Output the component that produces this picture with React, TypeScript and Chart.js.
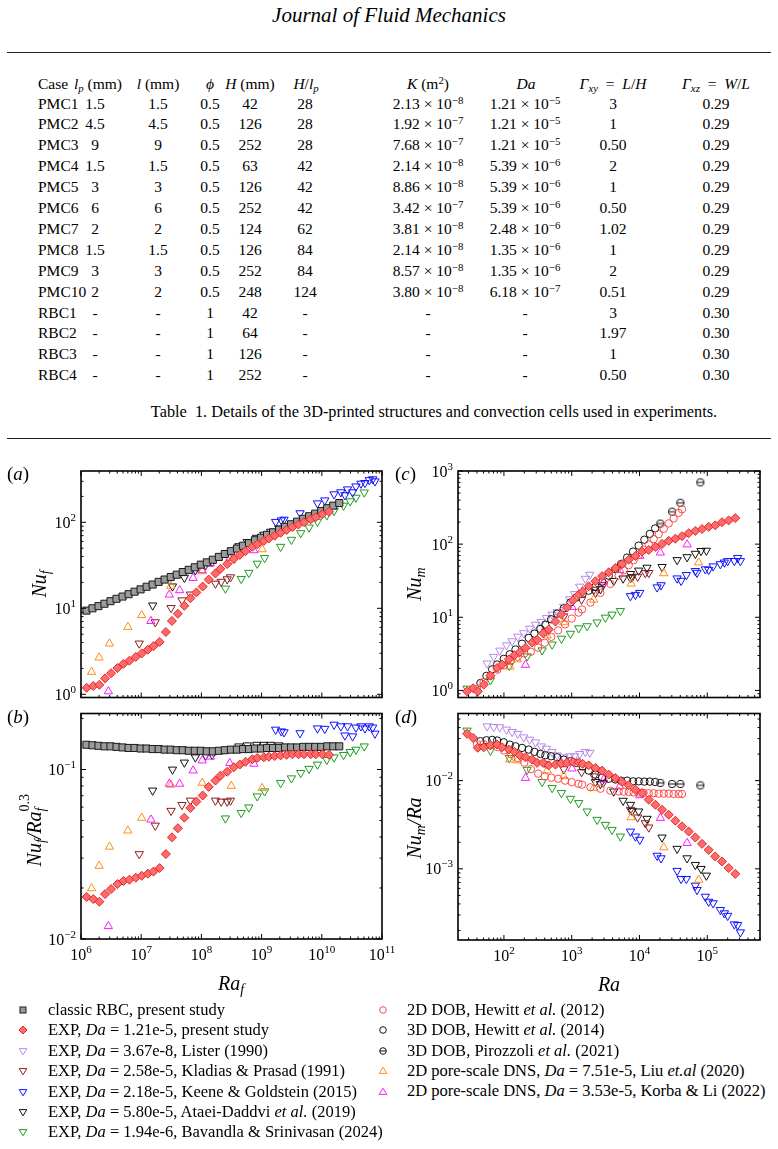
import React, { useEffect, useRef } from 'react';
import { Chart, registerables } from 'chart.js';
Chart.register(...registerables);

const FONT = "'Liberation Serif', 'Times New Roman', serif";

// ---------------- Table data ----------------
const caseNames = ['PMC1','PMC2','PMC3','PMC4','PMC5','PMC6','PMC7','PMC8','PMC9','PMC10','RBC1','RBC2','RBC3','RBC4'];
const lpVals = ['1.5','4.5','9','1.5','3','6','2','1.5','3','2','-','-','-','-'];
const lVals = ['1.5','4.5','9','1.5','3','6','2','1.5','3','2','-','-','-','-'];
const phiVals = ['0.5','0.5','0.5','0.5','0.5','0.5','0.5','0.5','0.5','0.5','1','1','1','1'];
const hVals = ['42','126','252','63','126','252','124','126','252','248','42','64','126','252'];
const hlpVals = ['28','28','28','42','42','42','62','84','84','124','-','-','-','-'];
const kMant = ['2.13','1.92','7.68','2.14','8.86','3.42','3.81','2.14','8.57','3.80','','','',''];
const kExp = ['\u22128','\u22127','\u22127','\u22128','\u22128','\u22127','\u22128','\u22128','\u22128','\u22128','','','',''];
const daMant = ['1.21','1.21','1.21','5.39','5.39','5.39','2.48','1.35','1.35','6.18','','','',''];
const daExp = ['\u22125','\u22125','\u22125','\u22126','\u22126','\u22126','\u22126','\u22126','\u22126','\u22127','','','',''];
const gxyVals = ['3','1','0.50','2','1','0.50','1.02','1','2','0.51','3','1.97','1','0.50'];
const gxzVals = ['0.29','0.29','0.29','0.29','0.29','0.29','0.29','0.29','0.29','0.29','0.30','0.30','0.30','0.30'];

// ---------------- Panels (a),(b): Ra_f ----------------
const rbcRaF = [1.23e6,1.55e6,1.95e6,2.45e6,3.09e6,3.89e6,4.90e6,6.17e6,7.76e6,9.77e6,1.23e7,1.55e7,1.95e7,2.45e7,3.09e7,3.89e7,4.90e7,6.17e7,7.76e7,9.77e7,1.23e8,1.55e8,1.95e8,2.45e8,3.09e8,3.89e8,4.90e8,6.17e8,7.76e8,9.77e8,1.23e9,1.55e9,1.95e9,2.45e9,3.09e9,3.89e9,4.90e9,6.17e9,7.76e9,9.77e9,1.23e10,1.55e10,1.95e10];
const rbcNuF = [9.40,10.0,10.6,11.3,12.1,12.9,13.7,14.6,15.6,16.6,17.8,18.9,20.3,21.6,23.1,24.6,26.4,28.0,30.0,32.2,34.2,36.7,39.6,42.8,46.2,49.5,53.4,57.2,61.8,66.2,71.5,76.6,82.1,88.6,94.9,101.7,109.8,117.6,126.0,135.1,145.8,156.2,167.4];
const rbcComp = [0.140,0.139,0.138,0.137,0.137,0.136,0.135,0.134,0.134,0.133,0.133,0.132,0.132,0.131,0.131,0.130,0.130,0.129,0.129,0.129,0.128,0.128,0.129,0.130,0.131,0.131,0.132,0.132,0.133,0.133,0.134,0.134,0.134,0.135,0.135,0.135,0.136,0.136,0.136,0.136,0.137,0.137,0.137];

const pmcRaF = [1.24e6,1.60e6,2.02e6,2.51e6,3.16e6,4.03e6,5.07e6,6.38e6,8.13e6,1.02e7,1.29e7,1.60e7,2.02e7,2.57e7,3.24e7,4.07e7,5.21e7,6.56e7,8.26e7,1.05e8,1.32e8,1.71e8,2.07e8,2.68e8,3.45e8,4.35e8,5.41e8,7.00e8,8.47e8,1.09e9,1.32e9,1.65e9,2.07e9,2.61e9,3.25e9,4.09e9,5.07e9,6.56e9,7.94e9,1.02e10,1.32e10];
const pmcNuF = [1.19,1.25,1.29,1.53,1.76,2.02,2.26,2.46,2.72,2.99,3.30,3.63,4.07,5.30,7.13,8.64,10.7,13.1,15.3,17.9,21.6,25.4,28.8,32.7,37.5,41.8,46.2,51.8,55.7,60.7,64.9,69.9,75.5,81.5,87.8,94.1,100.3,108.4,114.8,123.9,132.5];
const pmcComp = [0.0177,0.0172,0.0166,0.0184,0.0197,0.0211,0.0220,0.0224,0.0230,0.0236,0.0243,0.0250,0.0262,0.0317,0.0398,0.0450,0.0520,0.0593,0.0647,0.0702,0.0790,0.0860,0.0920,0.0970,0.103,0.107,0.111,0.115,0.117,0.118,0.119,0.120,0.121,0.122,0.123,0.123,0.123,0.123,0.123,0.123,0.122];

const kladRaF = [9.27e6,1.71e7,3.13e7,4.76e7,6.56e7,1.71e8,2.13e8,2.68e8,3.04e8];
const kladNuF = [3.9,6.9,10.1,12.4,14.5,19.4,20.4,21.8,23.0];
const kladComp = [0.0317,0.0467,0.0571,0.0618,0.0656,0.0656,0.0647,0.0647,0.0656];

const keeneRaF = [1.71e9,2.13e9,2.36e9,4.35e9,8.47e9,1.12e10,1.60e10,2.07e10,2.42e10,2.68e10,3.25e10,3.69e10,4.47e10,5.21e10,6.14e10,7.00e10,7.64e10];
const keeneNuF = [101.3,105.6,107.6,127.7,166.5,180.1,212.0,224.1,207.2,241.9,223.6,261.8,282.1,287.2,310.1,317.4,300.0];
const keeneComp = [0.172,0.168,0.166,0.164,0.175,0.174,0.184,0.180,0.159,0.180,0.157,0.177,0.180,0.175,0.180,0.177,0.163];

const ataeiRaF = [1.55e7,3.31e7,5.21e7,7.94e7,1.17e8,1.51e8,4.19e8,5.78e8,8.26e8,1.09e9,1.41e9,1.94e9];
const ataeiNuF = [10.8,18.0,22.7,27.7,31.8,34.6,52.9,59.1,66.2,72.0,77.8,85.0];
const ataeiComp = [0.0752,0.100,0.110,0.118,0.121,0.122,0.137,0.139,0.140,0.140,0.140,0.139];

const bavRaF = [2.51e8,4.59e8,6.14e8,8.47e8,1.12e9,2.07e9,3.13e9,4.47e9,6.14e9,8.47e9,1.21e10,1.60e10,2.30e10,2.96e10,3.69e10,5.07e10];
const bavNuF = [17.0,22.0,25.9,33.1,38.6,52.0,62.7,75.0,87.2,101.8,120.7,135.9,156.7,175.9,193.7,222.9];
const bavComp = [0.0515,0.0555,0.0598,0.0695,0.0744,0.0834,0.0888,0.0955,0.101,0.107,0.114,0.118,0.122,0.127,0.131,0.137];

const liuRaF = [1.5e6,2.0e6,2.97e6,6.0e6,1.02e7,3.1e7,1.03e8,3.13e8,1.02e9];
const liuNuF = [1.82,2.67,3.89,6.07,8.3,18.2,26.9,36.0,48.5];
const liuComp = [0.0199,0.0270,0.0350,0.0436,0.0518,0.0812,0.0834,0.080,0.0776];

const korbaRaF = [2.85e6,1.45e7,2.93e7,4.35e7,7.28e7,1.03e8,1.41e8,2.96e8,7.45e8];
const korbaNuF = [1.08,7.1,14.4,16.2,22.5,27.7,33.1,38.5,47.2];
const korbaComp = [0.0119,0.0506,0.0823,0.0823,0.0986,0.113,0.119,0.109,0.108];

// ---------------- Panels (c),(d): Ra ----------------
const pmcRa = [28.6,35.1,41.1,50.4,63.2,79.4,94.0,118,143,171,208,261,309,379,458,575,698,855,1050,1270,1450,1780,2240,2810,3520,4410,5540,6940,8710,10900,13700,17200,21500,27000,33800,42400,53200,66700,83700,105000,131000,165000,207000,259000];
const pmcNuM = [0.972,1.07,0.970,1.20,1.59,2.03,2.25,2.66,3.03,3.32,3.83,4.52,4.91,6.03,6.82,8.74,11.0,13.6,17.1,20.4,22.5,26.5,31.1,36.5,41.2,47.2,53.5,61.4,68.9,79.0,83.3,91.7,100.6,111.0,118.6,128.5,141.0,151.4,160.7,172.2,180.8,199.7,211.1,227.1];
const pmcNuMRa = [0.0340,0.0305,0.0236,0.0239,0.0252,0.0256,0.0239,0.0225,0.0212,0.0194,0.0184,0.0173,0.0159,0.0159,0.0149,0.0152,0.0157,0.0159,0.0163,0.0161,0.0155,0.0149,0.0139,0.0130,0.0117,0.0107,0.00966,0.00885,0.00791,0.00725,0.00608,0.00533,0.00468,0.00411,0.00351,0.00303,0.00265,0.00227,0.00192,0.00164,0.00138,0.00121,0.00102,0.000877];

const listerRa = [56.5,70.8,86.8,109,132,160,196,240,292,354,424,514,609,762,935,1100,1310,1590,1850];
const listerNuM = [2.34,2.88,3.51,4.14,4.71,5.44,6.08,7.01,7.94,8.67,9.79,10.9,11.8,14.0,17.7,20.8,26.3,33.7,38.3];
const listerNuMRa = [0.0414,0.0407,0.0404,0.0380,0.0357,0.0340,0.0310,0.0292,0.0272,0.0245,0.0231,0.0212,0.0194,0.0184,0.0189,0.0189,0.0201,0.0212,0.0207];

const kladRa = [414,764,1400,2130,2930,7350,9400,12200,13700];
const kladNuM = [6.42,10.3,17.5,23.9,27.8,34.4,36.0,40.3,40.4];
const kladNuMRa = [0.0155,0.0135,0.0125,0.0112,0.0095,0.00468,0.00383,0.0033,0.00295];

const keeneRa = [7350,8710,10100,18200,20800,35900,41100,49200,66700,70600,93700,105000,122000,156000,179000,200000,251000,281000,308000];
const keeneNuM = [19.5,20.3,21.6,25.7,27.5,34.1,31.6,37.9,43.1,40.7,45.4,44.6,49.8,53.4,56.2,58.8,59.0,64.9,58.8];
const keeneNuMRa = [0.00265,0.00233,0.00214,0.00141,0.00132,0.00095,0.00077,0.00077,0.000646,0.000577,0.000484,0.000425,0.000408,0.000342,0.000314,0.000294,0.000235,0.000231,0.000191];

const ataeiRa = [2240,2650,4170,5730,7350,7780,9730,12900,21500,35900,50400,66700,80900,97000];
const ataeiNuM = [21.6,24.3,31.5,34.0,39.2,35.5,43.6,47.7,48.8,60.7,66.5,74.0,80.9,81.5];
const ataeiNuMRa = [0.00966,0.00917,0.00755,0.00593,0.00533,0.00456,0.00448,0.00370,0.00227,0.00169,0.00132,0.00111,0.00100,0.00084];

const bavRa = [28.6,63.2,120,220,366,514,705,957,1270,1690,2370,3140,3940,5230];
const bavNuM = [1.06,1.38,2.17,2.93,3.54,4.25,5.11,5.97,7.09,7.57,8.53,9.92,10.9,12.2];
const bavNuMRa = [0.0370,0.0219,0.0181,0.0133,0.00966,0.00826,0.00725,0.00624,0.00558,0.00448,0.00360,0.00316,0.00277,0.00233];

const hew12Ra = [40,50,63,80,100,126,160,200,250,320,400,500,630,800,1000,1260,1420,1890,2650,3720,4930,5850,6940,8200,9730,11500,13700,16200,19200,22800,27000,31900,37800,42400];
const hew12NuM = [1.04,1.30,1.58,1.92,2.20,2.52,2.88,3.20,3.38,3.84,4.48,5.40,6.62,8.00,9.60,11.6,12.8,15.9,21.5,28.6,37.2,43.9,51.6,60.4,71.0,83.4,98.6,117,137,162,192,225,267,299];
const hew12NuMRa = [0.026,0.026,0.025,0.024,0.022,0.020,0.018,0.016,0.0135,0.012,0.0112,0.0108,0.0105,0.0100,0.0096,0.0092,0.0090,0.0084,0.0081,0.0077,0.00755,0.0075,0.00744,0.00736,0.0073,0.00725,0.0072,0.0072,0.00712,0.00712,0.00712,0.00706,0.00706,0.00706];

const hew14Ra = [45,55.2,67,79.4,99.3,122,148,185,232,282,345,409,497,609,762,957,1170,1450,1780,2240,2810,3520,4410,5350,6560,8040,9730,11800,14200,17000];
const hew14NuM = [1.26,1.58,1.94,2.26,2.70,3.12,3.63,4.35,5.22,5.98,6.93,7.93,9.39,11.2,13.2,15.9,18.6,21.0,23.1,26.2,30.6,37.0,45.4,53.5,65.6,79.0,95.5,115,138,164];
const hew14NuMRa = [0.028,0.0287,0.029,0.0285,0.0272,0.0256,0.0245,0.0235,0.0225,0.0212,0.0201,0.0194,0.0189,0.0184,0.0173,0.0166,0.0159,0.0145,0.0130,0.0117,0.0109,0.0105,0.0103,0.0100,0.0100,0.00982,0.00982,0.00975,0.00975,0.00966];

const piroRa = [20300,30300,40100,79100];
const piroNuM = [191,278,368,700];
const piroNuMRa = [0.00942,0.00917,0.00917,0.00885];

const liuRa = [122,157,434,762,2110,7520,22800,74600];
const liuNuM = [2.11,2.65,5.64,8.53,17.4,28.8,39.9,56.0];
const liuNuMRa = [0.0173,0.0169,0.0130,0.0112,0.00826,0.00383,0.00175,0.00075];

const korbaRa = [208,1010,2970,5110,10100,20300,50400];
const korbaNuM = [2.23,13.8,30.6,44.0,68.8,76.5,98.8];
const korbaNuMRa = [0.0107,0.0137,0.0103,0.00861,0.00681,0.00377,0.00196];

// ---------------- Styles ----------------
const C = {
  rbcFill: '#9b9b9b', rbcEdge: '#1a1a1a',
  pmcFill: '#ff6a6a', pmcEdge: '#e02a2a',
  lister: '#b88ae6', klad: '#8b1c1c', keene: '#1010ff', ataei: '#111111', bav: '#1f9a1f',
  hew12: '#ff4a4a', hew14: '#111111', piro: '#111111', liu: '#ff8c1a', korba: '#ff1aff',
};

let thetaImg: HTMLCanvasElement | null = null;
function thetaMarker() {
  if (thetaImg) return thetaImg;
  const c = document.createElement('canvas');
  c.width = 10; c.height = 10;
  const g = c.getContext('2d')!;
  g.strokeStyle = '#111'; g.lineWidth = 1;
  g.beginPath(); g.arc(5, 5, 3.7, 0, Math.PI * 2); g.stroke();
  g.beginPath(); g.moveTo(1.3, 5); g.lineTo(8.7, 5); g.stroke();
  thetaImg = c;
  return c;
}

type Mk = { style: any; r: number; fill: string; edge: string; rot?: number; bw?: number };
const MK: Record<string, Mk> = {
  rbc: { style: 'rect', r: 5, fill: C.rbcFill, edge: C.rbcEdge },
  pmc: { style: 'rectRot', r: 4.5, fill: C.pmcFill, edge: C.pmcEdge },
  lister: { style: 'triangle', r: 4.8, fill: 'rgba(0,0,0,0)', edge: C.lister, rot: 180 },
  klad: { style: 'triangle', r: 4.8, fill: 'rgba(0,0,0,0)', edge: C.klad, rot: 180 },
  keene: { style: 'triangle', r: 4.8, fill: 'rgba(0,0,0,0)', edge: C.keene, rot: 180 },
  ataei: { style: 'triangle', r: 4.8, fill: 'rgba(0,0,0,0)', edge: C.ataei, rot: 180 },
  bav: { style: 'triangle', r: 4.8, fill: 'rgba(0,0,0,0)', edge: C.bav, rot: 180 },
  hew12: { style: 'circle', r: 3.7, fill: 'rgba(0,0,0,0)', edge: C.hew12 },
  hew14: { style: 'circle', r: 3.7, fill: 'rgba(0,0,0,0)', edge: C.hew14 },
  piro: { style: 'theta', r: 4, fill: 'rgba(0,0,0,0)', edge: C.piro },
  liu: { style: 'triangle', r: 4.8, fill: 'rgba(0,0,0,0)', edge: C.liu },
  korba: { style: 'triangle', r: 4.8, fill: 'rgba(0,0,0,0)', edge: C.korba },
};

function ds(key: string, xs: number[], ys: number[]) {
  const m = MK[key];
  const ps = m.style === 'theta' ? thetaMarker() : m.style;
  return {
    type: 'scatter' as const,
    label: key,
    data: xs.map((x, i) => ({ x, y: ys[i] })),
    pointStyle: ps,
    pointRadius: m.r,
    pointBackgroundColor: m.fill,
    pointBorderColor: m.edge,
    pointBorderWidth: m.bw ?? 1,
    pointRotation: m.rot ?? 0,
    showLine: false,
  };
}

// ---------------- Axis plugin ----------------
const sciAxes = {
  id: 'sciAxes',
  afterDatasetsDraw(chart: any, _args: any, opts: any) {
    const ctx = chart.ctx as CanvasRenderingContext2D;
    const { left, right, top, bottom } = chart.chartArea;
    const sx = chart.scales.x, sy = chart.scales.y;
    const each = (sc: any, fn: (p: number, major: boolean, e: number) => void) => {
      const lo = Math.floor(Math.log10(sc.min)), hi = Math.ceil(Math.log10(sc.max));
      for (let e = lo; e <= hi; e++) {
        for (let m = 1; m < 10; m++) {
          const v = m * Math.pow(10, e);
          if (v < sc.min * 0.999 || v > sc.max * 1.001) continue;
          fn(sc.getPixelForValue(v), m === 1, e);
        }
      }
    };
    ctx.save();
    ctx.strokeStyle = '#000';
    ctx.lineWidth = 1;
    ctx.beginPath();
    each(sx, (p, major) => {
      const L = major ? 5 : 2.5;
      ctx.moveTo(p, bottom); ctx.lineTo(p, bottom - L);
      ctx.moveTo(p, top); ctx.lineTo(p, top + L);
    });
    each(sy, (p, major) => {
      const L = major ? 5 : 2.5;
      ctx.moveTo(left, p); ctx.lineTo(left + L, p);
      ctx.moveTo(right, p); ctx.lineTo(right - L, p);
    });
    ctx.stroke();
    ctx.lineWidth = 1.6;
    ctx.strokeRect(left, top, right - left, bottom - top);
    ctx.fillStyle = '#000';
    const pow = (e: number, x: number, yc: number, align: string) => {
      const base = '10';
      const ex = e < 0 ? '\u2212' + Math.abs(e) : String(e);
      ctx.font = `16px ${FONT}`;
      const wb = ctx.measureText(base).width;
      ctx.font = `11px ${FONT}`;
      const we = ctx.measureText(ex).width;
      const tot = wb + we;
      const x0 = align === 'right' ? x - tot : x - tot / 2;
      const bl = yc + 5.5;
      ctx.textAlign = 'left';
      ctx.textBaseline = 'alphabetic';
      ctx.font = `16px ${FONT}`;
      ctx.fillText(base, x0, bl);
      ctx.font = `11px ${FONT}`;
      ctx.fillText(ex, x0 + wb, bl - 7);
    };
    if (opts.yLabels) each(sy, (p, major, e) => { if (major) pow(e, left - 5, p, 'right'); });
    if (opts.xLabels) each(sx, (p, major, e) => { if (major) pow(e, p, bottom + opts.xOff, 'center'); });
    ctx.restore();
  },
};

type PanelCfg = {
  left: number; top: number; width: number; height: number;
  pad: { left: number; top: number; right: number; bottom: number };
  xr: [number, number]; yr: [number, number];
  xLabels: boolean; xOff: number;
  datasets: () => any[];
};

function Panel({ cfg }: { cfg: PanelCfg }) {
  const ref = useRef<HTMLCanvasElement>(null);
  useEffect(() => {
    const chart = new Chart(ref.current!, {
      type: 'scatter',
      data: { datasets: cfg.datasets() },
      options: {
        animation: false,
        responsive: false,
        devicePixelRatio: 1,
        events: [],
        layout: { padding: cfg.pad },
        scales: {
          x: { type: 'logarithmic', min: cfg.xr[0], max: cfg.xr[1], display: false },
          y: { type: 'logarithmic', min: cfg.yr[0], max: cfg.yr[1], display: false },
        },
        plugins: {
          legend: { display: false },
          tooltip: { enabled: false },
          sciAxes: { yLabels: true, xLabels: cfg.xLabels, xOff: cfg.xOff },
        } as any,
      },
      plugins: [sciAxes as any],
    } as any);
    return () => chart.destroy();
  }, []);
  return (
    <canvas
      ref={ref}
      width={cfg.width}
      height={cfg.height}
      style={{ position: 'absolute', left: cfg.left, top: cfg.top, width: cfg.width, height: cfg.height }}
    />
  );
}

const RAF: [number, number] = [1e6, 1e11];
const RA: [number, number] = [21, 6e5];

const panelA: PanelCfg = {
  left: 0, top: 455, width: 400, height: 250,
  pad: { left: 81, top: 16, right: 18, bottom: 7.5 },
  xr: RAF, yr: [0.918, 395], xLabels: false, xOff: 14,
  datasets: () => [
    ds('pmc', pmcRaF, pmcNuF), ds('rbc', rbcRaF, rbcNuF), ds('korba', korbaRaF, korbaNuF),
    ds('liu', liuRaF, liuNuF), ds('klad', kladRaF, kladNuF), ds('ataei', ataeiRaF, ataeiNuF),
    ds('keene', keeneRaF, keeneNuF), ds('bav', bavRaF, bavNuF),
  ],
};
const panelB: PanelCfg = {
  left: 0, top: 695, width: 400, height: 280,
  pad: { left: 81, top: 18.5, right: 18, bottom: 36 },
  xr: RAF, yr: [0.01, 0.214], xLabels: true, xOff: 15,
  datasets: () => [
    ds('pmc', pmcRaF, pmcComp), ds('rbc', rbcRaF, rbcComp), ds('korba', korbaRaF, korbaComp),
    ds('liu', liuRaF, liuComp), ds('klad', kladRaF, kladComp), ds('ataei', ataeiRaF, ataeiComp),
    ds('keene', keeneRaF, keeneComp), ds('bav', bavRaF, bavComp),
  ],
};
const panelC: PanelCfg = {
  left: 390, top: 455, width: 388, height: 250,
  pad: { left: 68, top: 16, right: 18, bottom: 7.5 },
  xr: RA, yr: [0.8, 1000], xLabels: false, xOff: 14,
  datasets: () => [
    ds('pmc', pmcRa, pmcNuM), ds('hew12', hew12Ra, hew12NuM), ds('hew14', hew14Ra, hew14NuM),
    ds('piro', piroRa, piroNuM), ds('lister', listerRa, listerNuM), ds('korba', korbaRa, korbaNuM),
    ds('liu', liuRa, liuNuM), ds('klad', kladRa, kladNuM), ds('ataei', ataeiRa, ataeiNuM),
    ds('keene', keeneRa, keeneNuM), ds('bav', bavRa, bavNuM),
  ],
};
const panelD: PanelCfg = {
  left: 390, top: 695, width: 388, height: 280,
  pad: { left: 68, top: 18.5, right: 18, bottom: 35 },
  xr: RA, yr: [1.56e-4, 0.0577], xLabels: true, xOff: 15,
  datasets: () => [
    ds('pmc', pmcRa, pmcNuMRa), ds('hew12', hew12Ra, hew12NuMRa), ds('hew14', hew14Ra, hew14NuMRa),
    ds('piro', piroRa, piroNuMRa), ds('lister', listerRa, listerNuMRa), ds('korba', korbaRa, korbaNuMRa),
    ds('liu', liuRa, liuNuMRa), ds('klad', kladRa, kladNuMRa), ds('ataei', ataeiRa, ataeiNuMRa),
    ds('keene', keeneRa, keeneNuMRa), ds('bav', bavRa, bavNuMRa),
  ],
};

// ---------------- HTML helpers ----------------
const subS: React.CSSProperties = { fontSize: '0.7em', verticalAlign: '-0.25em', lineHeight: 0 };
const supS: React.CSSProperties = { fontSize: '0.7em', verticalAlign: '0.45em', lineHeight: 0 };

function T({ x, y, size = 16, children, align = 'center', style }: any) {
  const tx = align === 'center' ? '-50%' : align === 'right' ? '-100%' : '0';
  return (
    <div style={{ position: 'absolute', left: x, top: y, transform: `translate(${tx},-50%)`, whiteSpace: 'nowrap', fontSize: size, lineHeight: 1, ...style }}>
      {children}
    </div>
  );
}

function VT({ x, y, size = 20, children }: any) {
  return (
    <div style={{ position: 'absolute', left: x, top: y, transform: 'translate(-50%,-50%) rotate(-90deg)', whiteSpace: 'nowrap', fontSize: size, lineHeight: 1, fontStyle: 'italic' }}>
      {children}
    </div>
  );
}

function LegendMarker({ k }: { k: string }) {
  const m = MK[k];
  const s = 12, c = 6;
  let shape: any = null;
  if (m.style === 'rect') shape = <rect x={c - 3} y={c - 3} width={6} height={6} fill={m.fill} stroke={m.edge} strokeWidth={1} />;
  else if (m.style === 'rectRot') shape = <polygon points={`${c - 4},${c} ${c},${c - 4} ${c + 4},${c} ${c},${c + 4}`} fill={m.fill} stroke={m.edge} strokeWidth={1} />;
  else if (m.style === 'triangle') {
    shape = m.rot === 180
      ? <polygon points={`${c - 3.8},${c - 2.4} ${c + 3.8},${c - 2.4} ${c},${c + 3.8}`} fill="none" stroke={m.edge} strokeWidth={1} />
      : <polygon points={`${c - 3.8},${c + 2.4} ${c + 3.8},${c + 2.4} ${c},${c - 3.8}`} fill="none" stroke={m.edge} strokeWidth={1} />;
  } else if (m.style === 'circle') shape = <circle cx={c} cy={c} r={3.3} fill="none" stroke={m.edge} strokeWidth={1} />;
  else shape = (<g><circle cx={c} cy={c} r={3.3} fill="none" stroke={m.edge} strokeWidth={1} /><line x1={c - 3.3} y1={c} x2={c + 3.3} y2={c} stroke={m.edge} strokeWidth={1} /></g>);
  return <svg width={s} height={s} style={{ display: 'block' }}>{shape}</svg>;
}

const legendLeft: [string, React.ReactNode][] = [
  ['rbc', <>classic RBC, present study</>],
  ['pmc', <>EXP, <i>Da</i> = 1.21e-5, present study</>],
  ['lister', <>EXP, <i>Da</i> = 3.67e-8, Lister (1990)</>],
  ['klad', <>EXP, <i>Da</i> = 2.58e-5, Kladias &amp; Prasad (1991)</>],
  ['keene', <>EXP, <i>Da</i> = 2.18e-5, Keene &amp; Goldstein (2015)</>],
  ['ataei', <>EXP, <i>Da</i> = 5.80e-5, Ataei-Daddvi <i>et al.</i> (2019)</>],
  ['bav', <>EXP, <i>Da</i> = 1.94e-6, Bavandla &amp; Srinivasan (2024)</>],
];
const legendRight: [string, React.ReactNode][] = [
  ['hew12', <>2D DOB, Hewitt <i>et al.</i> (2012)</>],
  ['hew14', <>3D DOB, Hewitt <i>et al.</i> (2014)</>],
  ['piro', <>3D DOB, Pirozzoli <i>et al.</i> (2021)</>],
  ['liu', <>2D pore-scale DNS, <i>Da</i> = 7.51e-5, Liu <i>et.al</i> (2020)</>],
  ['korba', <>2D pore-scale DNS, <i>Da</i> = 3.53e-5, Korba &amp; Li (2022)</>],
];

const colX = { lp: 95, l: 158, phi: 210, h: 250, hlp: 305, k: 428, da: 525, gxy: 613, gxz: 716 };
const EQ = '\u2002=\u2002';

export default function App() {
  const rowY = (i: number) => 103.5 + i * 20.9;
  const TS = 15.5;
  return (
    <div style={{ position: 'absolute', left: 0, top: 0, width: 778, height: 1149, background: '#fff', fontFamily: FONT, color: '#000', overflow: 'hidden' }}>
      <T x={389} y={15} size={21}><i>Journal of Fluid Mechanics</i></T>
      <div style={{ position: 'absolute', left: 7, top: 51.5, width: 764, height: 1.3, background: '#222' }} />

      {/* table header */}
      <T x={38} y={84} size={TS} align="left">Case</T>
      <T x={98} y={84} size={TS}><i>l</i><span style={subS}><i>p</i></span> (mm)</T>
      <T x={158} y={84} size={TS}><i>l</i> (mm)</T>
      <T x={210} y={84} size={TS}><i>ϕ</i></T>
      <T x={250} y={84} size={TS}><i>H</i> (mm)</T>
      <T x={306} y={84} size={TS}><i>H</i>/<i>l</i><span style={subS}><i>p</i></span></T>
      <T x={428} y={84} size={TS}><i>K</i>&nbsp;(m<span style={supS}>2</span>)</T>
      <T x={526} y={84} size={TS}><i>Da</i></T>
      <T x={613} y={84} size={TS}><i>Γ</i><span style={subS}><i>xy</i></span>{EQ}<i>L</i>/<i>H</i></T>
      <T x={716} y={84} size={TS}><i>Γ</i><span style={subS}><i>xz</i></span>{EQ}<i>W</i>/<i>L</i></T>

      {caseNames.map((nm, i) => (
        <React.Fragment key={nm}>
          <T x={38} y={rowY(i)} size={TS} align="left">{nm}</T>
          <T x={colX.lp} y={rowY(i)} size={TS}>{lpVals[i]}</T>
          <T x={colX.l} y={rowY(i)} size={TS}>{lVals[i]}</T>
          <T x={colX.phi} y={rowY(i)} size={TS}>{phiVals[i]}</T>
          <T x={colX.h} y={rowY(i)} size={TS}>{hVals[i]}</T>
          <T x={colX.hlp} y={rowY(i)} size={TS}>{hlpVals[i]}</T>
          <T x={colX.k} y={rowY(i)} size={TS}>{kMant[i] ? <>{kMant[i]} × 10<span style={supS}>{kExp[i]}</span></> : '-'}</T>
          <T x={colX.da} y={rowY(i)} size={TS}>{daMant[i] ? <>{daMant[i]} × 10<span style={supS}>{daExp[i]}</span></> : '-'}</T>
          <T x={colX.gxy} y={rowY(i)} size={TS}>{gxyVals[i]}</T>
          <T x={colX.gxz} y={rowY(i)} size={TS}>{gxzVals[i]}</T>
        </React.Fragment>
      ))}

      <T x={434} y={412} size={16.3}>Table&nbsp; 1. Details of the 3D-printed structures and convection cells used in experiments.</T>
      <div style={{ position: 'absolute', left: 7, top: 437.5, width: 764, height: 1.3, background: '#222' }} />

      <Panel cfg={panelA} />
      <Panel cfg={panelB} />
      <Panel cfg={panelC} />
      <Panel cfg={panelD} />

      <T x={7} y={473} size={19} align="left">(<i>a</i>)</T>
      <T x={7} y={716} size={19} align="left">(<i>b</i>)</T>
      <T x={395} y={473} size={19} align="left">(<i>c</i>)</T>
      <T x={395} y={716} size={19} align="left">(<i>d</i>)</T>

      <VT x={41} y={584}>Nu<span style={{ fontSize: '0.7em', verticalAlign: '-0.3em' }}>f</span></VT>
      <VT x={36} y={828}>
        Nu<span style={{ fontSize: '0.7em', verticalAlign: '-0.3em' }}>f</span>/Ra
        <span style={{ position: 'relative', display: 'inline-block' }}>
          <span style={{ fontSize: '0.7em', verticalAlign: '-0.3em' }}>f</span>
          <span style={{ position: 'absolute', left: 0, top: '-0.45em', fontSize: '0.7em', fontStyle: 'normal' }}>0.3</span>
        </span>
        <span style={{ display: 'inline-block', width: '0.9em' }} />
      </VT>
      <VT x={416} y={584}>Nu<span style={{ fontSize: '0.7em', verticalAlign: '-0.3em' }}>m</span></VT>
      <VT x={416} y={828}>Nu<span style={{ fontSize: '0.7em', verticalAlign: '-0.3em' }}>m</span>/Ra</VT>
      <T x={231} y={985} size={20}><i>Ra<span style={{ fontSize: '0.7em', verticalAlign: '-0.3em' }}>f</span></i></T>
      <T x={609} y={984} size={20}><i>Ra</i></T>

      {legendLeft.map(([k, txt], i) => (
        <React.Fragment key={k}>
          <div style={{ position: 'absolute', left: 17, top: 1010 + i * 20.4 - 6 }}><LegendMarker k={k} /></div>
          <T x={48} y={1010 + i * 20.4} size={16.5} align="left">{txt}</T>
        </React.Fragment>
      ))}
      {legendRight.map(([k, txt], i) => (
        <React.Fragment key={k}>
          <div style={{ position: 'absolute', left: 377, top: 1010 + i * 20.4 - 6 }}><LegendMarker k={k} /></div>
          <T x={407} y={1010 + i * 20.3} size={16.5} align="left">{txt}</T>
        </React.Fragment>
      ))}
    </div>
  );
}
